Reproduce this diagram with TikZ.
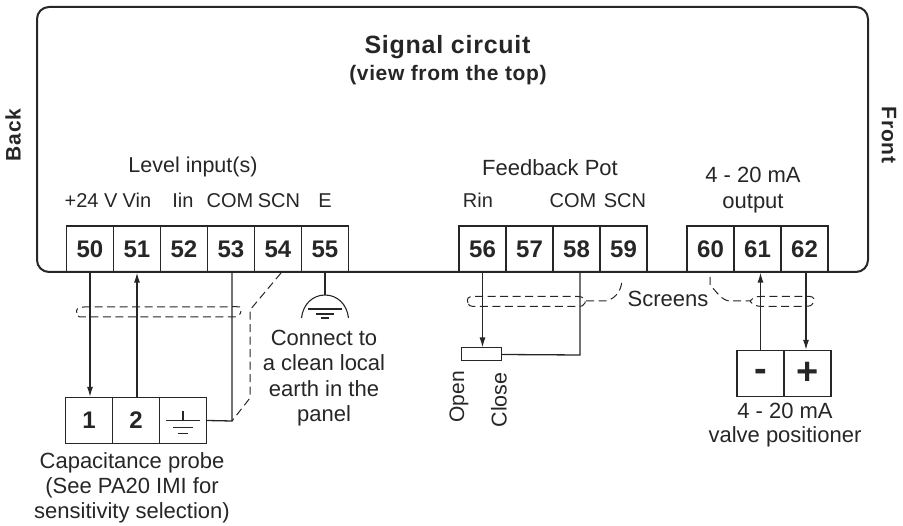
\documentclass[tikz,border=0pt]{standalone}
\usepackage{fontspec}
\setmainfont{Liberation Sans}
\usetikzlibrary{arrows.meta}
\definecolor{ink}{HTML}{262626}
\tikzset{
 x=1pt,y=-1pt,
 wire/.style={draw=ink,line width=1.3pt},
 arrowwire/.style={wire,-{Latex[length=10pt,width=6pt]}},
 screen/.style={draw=ink,line width=1pt,dash pattern=on 8pt off 4.5pt},
 term/.style={draw=ink,line width=1.2pt,minimum width=47pt,minimum height=46pt,inner sep=0pt,font=\bfseries\fontsize{24}{24}\selectfont,text=ink},
 lab/.style={font=\fontsize{20}{26}\selectfont,text=ink,inner sep=0pt,align=center},
 big/.style={lab,font=\fontsize{22}{25.5}\selectfont},
 blab/.style={font=\bfseries\fontsize{21}{24}\selectfont\addfontfeature{LetterSpace=3},text=ink,inner sep=0pt,align=center},
}
\begin{document}
\begin{tikzpicture}
\useasboundingbox (0,0) rectangle (903,526);
\draw[draw=ink,line width=2pt,rounded corners=12pt] (37,7) rectangle (868,272);
% terminals
\foreach \n/\cx in {50/90,51/137,52/184,53/231,54/278,55/325,56/482.5,57/529.5,58/576.5,59/623.5,60/710.5,61/757.5,62/804.5}
  \node[term] (t\n) at (\cx,249) {\n};
% probe
\node[term] (p1) at (89,420.5) {1};
\node[term] (p2) at (136,420.5) {2};
\node[term] (p3) at (183,420.5) {};
\draw[wire] (p3.center)++(0,-9) -- ++(0,9) ++(-17,0) -- ++(34,0) ++(-27,7) -- ++(20,0) ++(-15,6) -- ++(10,0);
% positioner
\node[term,font=\bfseries\fontsize{38}{38}\selectfont] (vm) at (760.5,373.5) {\raisebox{-8.5pt}[0pt][0pt]{-}};
\node[term,font=\bfseries\fontsize{38}{38}\selectfont] (vp) at (807.5,373.5) {+};
% pot
\node[draw=ink,line width=1pt,minimum width=40pt,minimum height=13pt,inner sep=0pt] (pot) at (481.5,354.5) {};
% wires
\coordinate (j53) at (232,421);
\coordinate (j58) at (580,355);
\coordinate (w62) at (806,272);
\draw[arrowwire] (t50.south) -- (t50.south |- p1.north);
\draw[arrowwire] (t51.south |- p2.north) -- (t51.south);
\draw[wire] (p3.east) -- (j53) -- (j53 |- t53.south);
\draw[arrowwire] (t56.south) -- (t56.south |- pot.north);
\draw[wire] (pot.east) -- (j58) -- (j58 |- t58.south);
\draw[arrowwire] (vm.north) -- (vm.north |- t61.south);
\draw[arrowwire] (w62) -- (w62 |- vp.north);
% earth 55
\draw[wire] (t55.south) -- (325,295);
\draw[wire,line width=1.1pt] (301.5,318) .. controls (303,304) and (313,295) .. (325,295) .. controls (337,295) and (347,304) .. (348.5,318);
\draw[wire,line width=1.1pt] (308,309) -- (342,309) (316,314) -- (334,314) (321,318) -- (329,318);
% screens
\draw[screen] (240,307) .. controls (236,306.5) .. (228,307) -- (84,307) .. controls (78,307) and (75,310) .. (77,313)
 (78,316) .. controls (79,317) .. (84,317) -- (234,317) .. controls (238,317) and (241,314) .. (241,311);
\draw[screen] (281,273) -- (250,310) -- (250,398) -- (232,421);
\draw[screen] (468,303) .. controls (466,298) and (469,296.5) .. (473,296.5) -- (578,296.5) .. controls (584,296.5) and (586,300) .. (585,303) .. controls (584,306) and (581,306.5) .. (578,306.5) -- (473,306.5) .. controls (470,306.5) and (468,305) .. (468,303);
\draw[screen] (586,301) -- (604,301) .. controls (612,301) and (622,293) .. (622,279);
\draw[screen] (710,277) -- (710,285) .. controls (716,291) and (722,301) .. (730,301) -- (750,301) .. controls (752,298) and (755,296.5) .. (760,296.5) -- (810,296.5) .. controls (814,296.5) and (815,300) .. (813,303) .. controls (812,306) and (808,306.5) .. (805,306.5) -- (762,306.5) .. controls (756,306.5) and (752,304) .. (750,301);
% labels
\node[blab,font=\bfseries\fontsize{25}{25}\selectfont\addfontfeature{LetterSpace=3}] (title) at (447.5,47) {Signal circuit};
\node[blab] (sub) at (448,75) {(view from the top)};
\node[blab,rotate=90] (back) at (13,135) {Back};
\node[blab,rotate=-90] (front) at (889,135) {Front};
\node[big,font=\fontsize{21.5}{26}\selectfont] (li) at (193,167) {Level input(s)};
\node[lab] (a1) at (91,200.5) {+24 V};
\node[lab] (a2) at (137,200.5) {Vin};
\node[lab] (a3) at (183,200.5) {Iin};
\node[lab] (a4) at (230,200.5) {COM};
\node[lab] (a5) at (279,200.5) {SCN};
\node[lab] (a6) at (325,200.5) {E};
\node[big] (fp) at (550,168) {Feedback Pot};
\node[lab] (b1) at (478,200.5) {Rin};
\node[lab] (b2) at (573,200.5) {COM};
\node[lab] (b3) at (625,200.5) {SCN};
\node[big,font=\fontsize{22}{26}\selectfont] (o) at (753,190) {4 - 20 mA\\output};
\node[big] (c) at (324,378) {Connect to\\a clean local\\earth in the\\panel};
\node[big] (s) at (668,299) {Screens};
\node[big,font=\fontsize{22}{25}\selectfont] (probe) at (132,488) {Capacitance probe\\(See PA20 IMI for\\sensitivity selection)};
\node[lab,rotate=90,font=\fontsize{21}{21}\selectfont] (op) at (459,397) {Open};
\node[lab,rotate=90,font=\fontsize{21.5}{21}\selectfont] (cl) at (499,400) {Close};
\node[big,font=\fontsize{22}{24.5}\selectfont] (vl) at (785,425) {4 - 20 mA\\valve positioner};
\end{tikzpicture}
\end{document}
